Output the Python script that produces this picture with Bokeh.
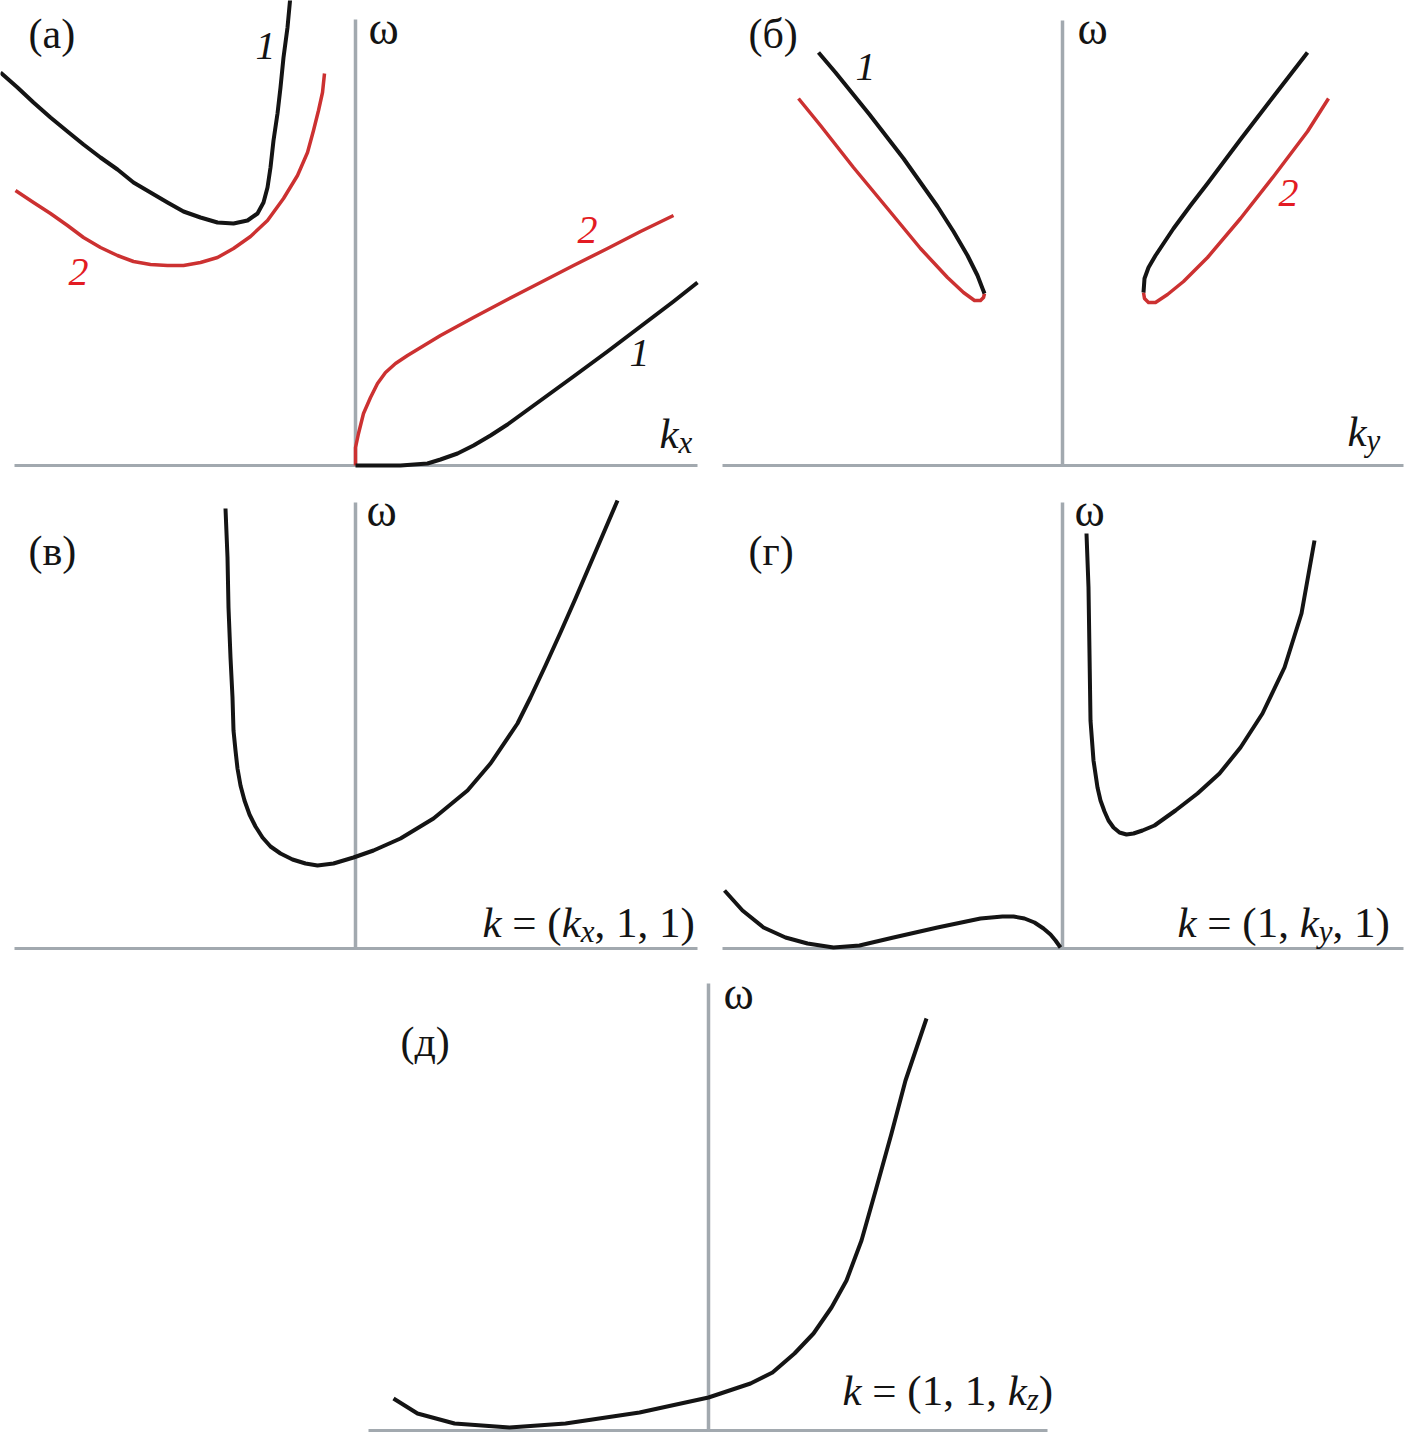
from bokeh.plotting import figure
from bokeh.layouts import column, row, Spacer
from bokeh.models import Range1d
from bokeh.core.properties import value
from bokeh.embed import file_html
from bokeh.resources import INLINE

# ---------------- data (k, omega in arbitrary units) ----------------
# Panel (а): omega(k_x)
a_k1_left = [-3.55, -3.38, -3.22, -3.05, -2.88, -2.72, -2.55, -2.38, -2.22, -2.05, -1.88, -1.72, -1.55, -1.38, -1.22,
             -1.08, -0.98, -0.92, -0.88, -0.85, -0.82, -0.78, -0.75, -0.72, -0.68, -0.65]
a_w1_left = [3.93, 3.78, 3.63, 3.48, 3.34, 3.21, 3.08, 2.96, 2.83, 2.73, 2.63, 2.54, 2.48, 2.43, 2.42,
             2.45, 2.52, 2.63, 2.78, 2.98, 3.25, 3.52, 3.78, 4.08, 4.38, 4.70]
a_k2_left = [-3.40, -3.22, -3.05, -2.88, -2.72, -2.55, -2.38, -2.22, -2.05, -1.88, -1.72, -1.55, -1.38, -1.22,
             -1.05, -0.88, -0.72, -0.58, -0.48, -0.42, -0.37, -0.33, -0.31]
a_w2_left = [2.75, 2.63, 2.52, 2.40, 2.28, 2.18, 2.10, 2.04, 2.01, 2.00, 2.00, 2.03, 2.08, 2.17,
             2.29, 2.45, 2.67, 2.90, 3.13, 3.35, 3.55, 3.73, 3.92]
a_k2_right = [0, 0.00, 0.03, 0.08, 0.15, 0.22, 0.30, 0.40, 0.52, 0.85, 1.18, 1.52, 1.85, 2.18, 2.52, 2.85, 3.18]
a_w2_right = [0, 0.18, 0.32, 0.52, 0.68, 0.82, 0.93, 1.02, 1.10, 1.30, 1.48, 1.66, 1.83, 2.00, 2.17, 2.34, 2.50]
a_k1_right = [0, 0.45, 0.72, 0.85, 1.02, 1.18, 1.35, 1.52, 1.85, 2.18, 2.52, 2.85, 3.18, 3.42]
a_w1_right = [0, 0, 0.02, 0.06, 0.12, 0.20, 0.30, 0.41, 0.65, 0.89, 1.14, 1.39, 1.64, 1.83]

# Panel (б): omega(k_y)
b_k1_left = [-2.44, -2.27, -2.10, -1.93, -1.76, -1.59, -1.42, -1.25, -1.09, -0.95, -0.85, -0.80, -0.78]
b_w1_left = [4.13, 3.93, 3.72, 3.51, 3.29, 3.07, 2.83, 2.59, 2.34, 2.10, 1.90, 1.77, 1.72]
b_k2_left = [-0.78, -0.79, -0.82, -0.88, -0.99, -1.15, -1.42, -1.75, -2.09, -2.42, -2.64]
b_w2_left = [1.72, 1.68, 1.65, 1.65, 1.73, 1.88, 2.17, 2.57, 2.98, 3.40, 3.67]
b_k1_right = [0.81, 0.82, 0.86, 0.93, 1.01, 1.11, 1.28, 1.45, 1.78, 2.11, 2.45]
b_w1_right = [1.73, 1.87, 1.98, 2.10, 2.22, 2.37, 2.60, 2.82, 3.26, 3.69, 4.13]
b_k2_right = [0.81, 0.82, 0.86, 0.93, 1.05, 1.21, 1.45, 1.78, 2.11, 2.45, 2.66]
b_w2_right = [1.73, 1.67, 1.63, 1.63, 1.71, 1.84, 2.08, 2.47, 2.89, 3.34, 3.67]

# Panel (в): k = (k_x, 1, 1)
v_k = [-1.30, -1.28, -1.27, -1.25, -1.23, -1.22, -1.20, -1.18, -1.15, -1.11, -1.06, -1.00, -0.93, -0.85, -0.75,
       -0.63, -0.50, -0.38, -0.22, -0.02, 0.18, 0.45, 0.78, 1.12, 1.35, 1.62, 1.75, 1.90, 2.05, 2.20, 2.35, 2.50, 2.62]
v_w = [4.40, 3.91, 3.41, 2.91, 2.51, 2.18, 1.98, 1.80, 1.63, 1.48, 1.34, 1.22, 1.11, 1.02, 0.95,
       0.89, 0.85, 0.83, 0.85, 0.91, 0.98, 1.10, 1.30, 1.58, 1.85, 2.25, 2.51, 2.83, 3.16, 3.50, 3.85, 4.20, 4.48]

# Panel (г): k = (1, k_y, 1)
g_k_right = [0.24, 0.26, 0.27, 0.28, 0.31, 0.35, 0.38, 0.42, 0.46, 0.51, 0.57, 0.64, 0.71, 0.80, 0.92,
             1.13, 1.35, 1.57, 1.78, 2.00, 2.22, 2.39, 2.52]
g_w_right = [4.15, 3.61, 2.95, 2.28, 1.88, 1.61, 1.48, 1.37, 1.28, 1.21, 1.16, 1.14, 1.15, 1.18, 1.23,
             1.38, 1.55, 1.75, 2.01, 2.35, 2.81, 3.35, 4.08]
g_k_left = [-3.38, -3.20, -2.99, -2.77, -2.55, -2.29, -2.03, -1.69, -1.25, -0.82, -0.60, -0.49, -0.38, -0.28,
            -0.19, -0.12, -0.07, -0.02]
g_w_left = [0.58, 0.38, 0.21, 0.11, 0.05, 0.01, 0.03, 0.11, 0.21, 0.30, 0.32, 0.32, 0.30, 0.26,
            0.20, 0.14, 0.08, 0.01]

# Panel (д): k = (1, 1, k_z)
d_k = [-3.15, -2.91, -2.54, -1.99, -1.43, -0.69, 0, 0.42, 0.64, 0.86, 1.05, 1.23, 1.38, 1.53, 1.68, 1.83, 1.97, 2.18]
d_w = [0.32, 0.17, 0.07, 0.03, 0.07, 0.18, 0.33, 0.47, 0.58, 0.77, 0.97, 1.23, 1.50, 1.90, 2.43, 2.97, 3.50, 4.12]

# ---------------- styling / layout ----------------
UNIT = 100.0          # pixels per data unit
SERIF = "Liberation Serif"
BLACK = "#141414"
RED_LINE = "#cc3131"
RED_TEXT = "#e31b23"
AXIS = "#a2a9af"
TEXT_LIFT = 12        # correction of the text baseline position (px)

# Times-compatible advance widths (em)
ROMAN_W = {" ": 0.25, "=": 0.564, "(": 0.333, ")": 0.333, ",": 0.25, "1": 0.5}
ITAL_W = {"k": 0.444, "x": 0.444, "y": 0.444, "z": 0.389}


def make_panel(box, origin, ax_x, ax_top):
    """box = (left, top, right, bottom) in px, origin = axis crossing in px"""
    left, top, right, bottom = box
    ox, oy = origin
    p = figure(width=right - left, height=bottom - top,
               x_range=Range1d((left - ox) / UNIT, (right - ox) / UNIT),
               y_range=Range1d((oy - bottom) / UNIT, (oy - top) / UNIT),
               output_backend="svg", toolbar_location=None, min_border=0,
               tools="")
    p.axis.visible = False
    p.grid.visible = False
    p.outline_line_color = None
    p.background_fill_color = "white"
    p.border_fill_color = "white"
    # coordinate axes
    p.line([ax_x[0], ax_x[1]], [0, 0], line_color=AXIS, line_width=3)
    p.line([0, 0], [0, ax_top], line_color=AXIS, line_width=3.5)
    p._origin = origin
    return p


def put(p, px, py, txt, size, color=BLACK, italic=False, align="left"):
    ox, oy = p._origin
    p.text(x=[(px - ox) / UNIT], y=[(oy - (py - TEXT_LIFT)) / UNIT], text=[txt],
           text_font=value(SERIF), text_font_size=f"{size}px",
           text_font_style="italic" if italic else "normal",
           text_color=color, text_align=align, text_baseline="alphabetic")


def put_formula(p, px, py, pieces, size, sub_scale=0.72, sub_drop=9):
    """pieces: list of (string, italic, subscript)"""
    x = px
    for s, it, sub in pieces:
        fs = size * sub_scale if sub else size
        table = ITAL_W if it else ROMAN_W
        lead = len(s) - len(s.lstrip(" "))
        x += lead * 0.25 * fs
        core = s.strip(" ")
        put(p, x, py + (sub_drop if sub else 0), core, round(fs, 1), italic=it)
        x += sum(table.get(c, ROMAN_W.get(c, 0.5)) for c in core) * fs
        trail = len(s) - len(s.rstrip(" "))
        x += trail * 0.25 * fs


LBL = 42
NUM = 40
OMEGA = 46
FRM = 43
LW_B = 4
LW_R = 3.5

# ---- (а)
pa = make_panel((0, 0, 708, 474), (355, 465), (-3.41, 3.42), 4.46)
pa.line(a_k1_left, a_w1_left, line_color=BLACK, line_width=LW_B, line_join="round")
pa.line(a_k2_left, a_w2_left, line_color=RED_LINE, line_width=LW_R, line_join="round")
pa.line(a_k2_right, a_w2_right, line_color=RED_LINE, line_width=LW_R, line_join="round")
pa.line(a_k1_right, a_w1_right, line_color=BLACK, line_width=LW_B, line_join="round")
put(pa, 28, 45, "(а)", LBL)
put(pa, 265, 57, "1", NUM, italic=True, align="center")
put(pa, 78, 283, "2", NUM, color=RED_TEXT, italic=True, align="center")
put(pa, 368, 40, "ω", OMEGA)
put(pa, 587, 241, "2", NUM, color=RED_TEXT, italic=True, align="center")
put(pa, 639, 364, "1", NUM, italic=True, align="center")
put_formula(pa, 659, 445, [("k", True, False), ("x", True, True)], FRM)

# ---- (б)
pb = make_panel((708, 0, 1409, 474), (1062, 465), (-3.40, 3.41), 4.45)
pb.line(b_k2_left, b_w2_left, line_color=RED_LINE, line_width=LW_R, line_join="round")
pb.line(b_k1_left, b_w1_left, line_color=BLACK, line_width=LW_B, line_join="round")
pb.line(b_k2_right, b_w2_right, line_color=RED_LINE, line_width=LW_R, line_join="round")
pb.line(b_k1_right, b_w1_right, line_color=BLACK, line_width=LW_B, line_join="round")
put(pb, 748, 45, "(б)", LBL)
put(pb, 865, 78, "1", NUM, italic=True, align="center")
put(pb, 1077, 40, "ω", OMEGA)
put(pb, 1288, 204, "2", NUM, color=RED_TEXT, italic=True, align="center")
put_formula(pb, 1347, 443, [("k", True, False), ("y", True, True)], FRM)

# ---- (в)
pv = make_panel((0, 474, 708, 958), (355, 948), (-3.41, 3.42), 4.46)
pv.line(v_k, v_w, line_color=BLACK, line_width=LW_B, line_join="round")
put(pv, 28, 562, "(в)", LBL)
put(pv, 366, 522, "ω", OMEGA)
put_formula(pv, 482, 934, [("k", True, False), (" = (", False, False), ("k", True, False),
                           ("x", True, True), (", 1, 1)", False, False)], FRM)

# ---- (г)
pg = make_panel((708, 474, 1409, 958), (1062, 948), (-3.40, 3.41), 4.46)
pg.line(g_k_left, g_w_left, line_color=BLACK, line_width=LW_B, line_join="round")
pg.line(g_k_right, g_w_right, line_color=BLACK, line_width=LW_B, line_join="round")
put(pg, 748, 562, "(г)", LBL)
put(pg, 1074, 522, "ω", OMEGA)
put_formula(pg, 1177, 934, [("k", True, False), (" = (1, ", False, False), ("k", True, False),
                            ("y", True, True), (", 1)", False, False)], FRM)

# ---- (д)
pd = make_panel((356, 958, 1060, 1440), (708, 1430), (-3.40, 3.39), 4.47)
pd.line(d_k, d_w, line_color=BLACK, line_width=LW_B, line_join="round")
put(pd, 400, 1053, "(д)", LBL)
put(pd, 723, 1005, "ω", OMEGA)
put_formula(pd, 842, 1402, [("k", True, False), (" = (1, 1, ", False, False), ("k", True, False),
                            ("z", True, True), (")", False, False)], FRM)

layout = column(row(pa, pb), row(pv, pg), row(Spacer(width=356, height=482), pd))

open("out.html", "w").write(file_html(layout, INLINE))
